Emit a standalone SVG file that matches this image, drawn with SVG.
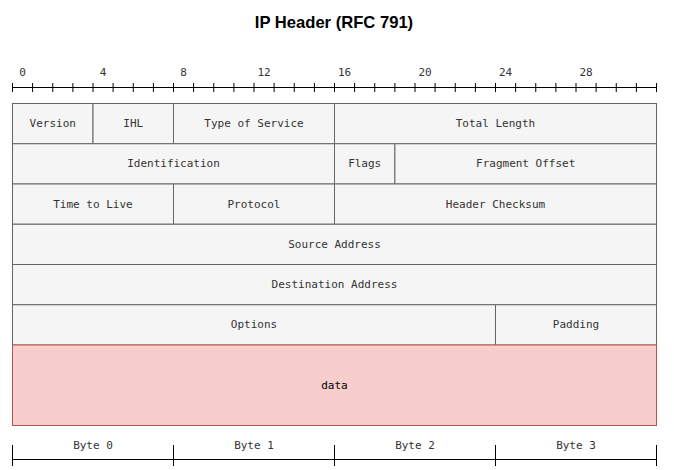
<svg xmlns="http://www.w3.org/2000/svg" width="674" height="470" viewBox="0 0 674 470">
<style>
.f{fill:#f5f5f5;stroke:#666666;stroke-width:1}
.d{fill:#f8cecc;stroke:#b85450;stroke-width:1}
.t{font-family:"DejaVu Sans Mono",monospace;font-size:11px;fill:#333333;text-anchor:middle;dominant-baseline:central}
.r{stroke:#000000;stroke-width:1;fill:none}
.title{font-family:"Liberation Sans",Arial,sans-serif;font-size:16.6px;font-weight:bold;text-anchor:middle;fill:#000}
</style>
<rect width="674" height="470" fill="#ffffff"/>
<text class="title" x="334" y="28">IP Header (RFC 791)</text>
<g id="ruler">
<path class="r" d="M12.5 87.5H656.5 M12.5 83V92 M32.6 83V92 M52.75 83V92 M72.9 83V92 M93 83V92 M113.1 83V92 M133.25 83V92 M153.4 83V92 M173.5 83V92 M193.6 83V92 M213.75 83V92 M233.9 83V92 M254 83V92 M274.1 83V92 M294.25 83V92 M314.4 83V92 M334.5 83V92 M354.6 83V92 M374.75 83V92 M394.9 83V92 M415 83V92 M435.1 83V92 M455.25 83V92 M475.4 83V92 M495.5 83V92 M515.6 83V92 M535.75 83V92 M555.9 83V92 M576 83V92 M596.1 83V92 M616.25 83V92 M636.4 83V92 M656.5 83V92"/>
<text class="t" x="22.6" y="72">0</text>
<text class="t" x="103.1" y="72">4</text>
<text class="t" x="183.6" y="72">8</text>
<text class="t" x="264.1" y="72">12</text>
<text class="t" x="344.6" y="72">16</text>
<text class="t" x="425.1" y="72">20</text>
<text class="t" x="505.6" y="72">24</text>
<text class="t" x="586.1" y="72">28</text>
</g>
<g id="version"><rect class="f" x="12.5" y="103.5" width="80.5" height="40.25"/><text class="t" x="52.75" y="123.6">Version</text></g>
<g id="ihl"><rect class="f" x="93" y="103.5" width="80.5" height="40.25"/><text class="t" x="133.25" y="123.6">IHL</text></g>
<g id="tos"><rect class="f" x="173.5" y="103.5" width="161" height="40.25"/><text class="t" x="254" y="123.6">Type of Service</text></g>
<g id="totallength"><rect class="f" x="334.5" y="103.5" width="322" height="40.25"/><text class="t" x="495.5" y="123.6">Total Length</text></g>
<g id="identification"><rect class="f" x="12.5" y="143.75" width="322" height="40.25"/><text class="t" x="173.5" y="163.9">Identification</text></g>
<g id="flags"><rect class="f" x="334.5" y="143.75" width="60.4" height="40.25"/><text class="t" x="364.7" y="163.9">Flags</text></g>
<g id="fragoffset"><rect class="f" x="394.9" y="143.75" width="261.6" height="40.25"/><text class="t" x="525.7" y="163.9">Fragment Offset</text></g>
<g id="ttl"><rect class="f" x="12.5" y="184" width="161" height="40.25"/><text class="t" x="93" y="204.1">Time to Live</text></g>
<g id="protocol"><rect class="f" x="173.5" y="184" width="161" height="40.25"/><text class="t" x="254" y="204.1">Protocol</text></g>
<g id="checksum"><rect class="f" x="334.5" y="184" width="322" height="40.25"/><text class="t" x="495.5" y="204.1">Header Checksum</text></g>
<g id="source"><rect class="f" x="12.5" y="224.25" width="644" height="40.25"/><text class="t" x="334.5" y="244.4">Source Address</text></g>
<g id="destination"><rect class="f" x="12.5" y="264.5" width="644" height="40.25"/><text class="t" x="334.5" y="284.6">Destination Address</text></g>
<g id="options"><rect class="f" x="12.5" y="304.75" width="483" height="40.25"/><text class="t" x="254" y="324.9">Options</text></g>
<g id="padding"><rect class="f" x="495.5" y="304.75" width="161" height="40.25"/><text class="t" x="576" y="324.9">Padding</text></g>
<g id="data"><rect class="d" x="12.5" y="345" width="644" height="80.5"/><text class="t" x="334.5" y="385.2" style="fill:#000">data</text></g>
<g id="bytes">
<path class="r" d="M12.5 459.5H656.5 M12.5 445V466 M173.5 445V466 M334.5 445V466 M495.5 445V466 M656.5 445V466"/>
<text class="t" x="93" y="445">Byte 0</text>
<text class="t" x="254" y="445">Byte 1</text>
<text class="t" x="415" y="445">Byte 2</text>
<text class="t" x="576" y="445">Byte 3</text>
</g>
</svg>
